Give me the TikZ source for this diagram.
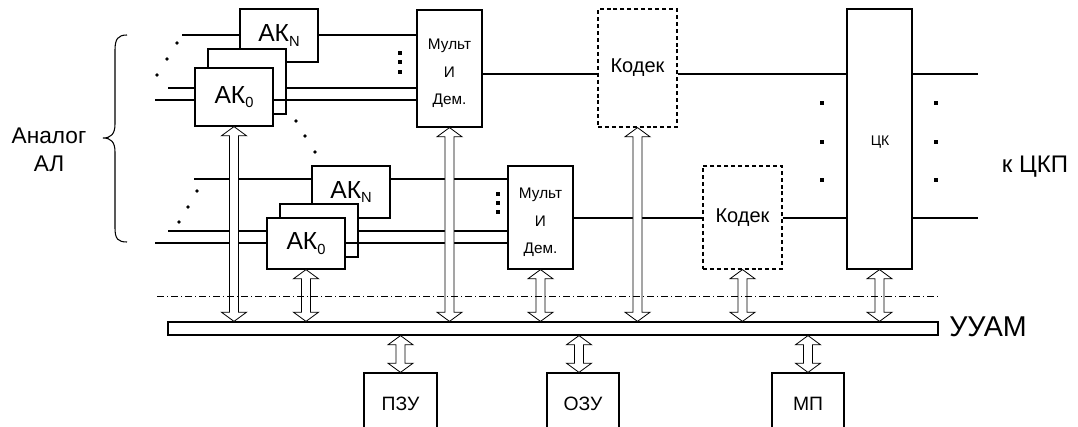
\documentclass[tikz,border=0pt]{standalone}
\usepackage{fontspec}
\setmainfont{Liberation Sans}
\usetikzlibrary{calc}
\newcommand\sbs[1]{\raisebox{-3.5pt}{\fontsize{11}{11}\selectfont #1}}
\newcommand\rbox[7][]{\node[rbx,#1,minimum width={(#5-#3)*0.75pt},minimum height={(#6-#4)*0.75pt}] (#2) at ({(#3+#5)/2},{(#4+#6)/2}) {#7};}
\newcommand\fat[2]{\path[fatarrow] let \p1=(#1), \p2=(#2) in
  (\x1,\y1) -- (\x1+9.4pt,\y1-6.9pt) -- (\x1+3.4pt,\y1-6.9pt) -- (\x1+3.4pt,\y2+6.9pt)
  -- (\x1+9.4pt,\y2+6.9pt) -- (\x1,\y2) -- (\x1-9.4pt,\y2+6.9pt) -- (\x1-3.4pt,\y2+6.9pt)
  -- (\x1-3.4pt,\y1-6.9pt) -- (\x1-9.4pt,\y1-6.9pt) -- cycle;}
\tikzset{
  rbx/.style={draw, line width=0.9pt, fill=white, inner sep=0pt, rectangle},
  dsh/.style={dash pattern=on 3pt off 2.2pt},
  fatarrow/.style={draw, fill=white, line width=0.6pt, line join=miter},
  conn/.style={line width=0.9pt},
  dashdot/.style={line width=0.7pt, dash pattern=on 5.5pt off 2pt on 1pt off 2pt},
  dotc/.style={circle, fill, inner sep=0pt, minimum size=2.8pt},
  sqd/.style={rectangle, fill, inner sep=0pt, minimum size=3pt},
  fAK/.style={font=\fontsize{18.5}{22}\selectfont},
  fKod/.style={font=\fontsize{15}{18}\selectfont},
  fMux/.style={font=\fontsize{11.5}{20.6}\selectfont, align=center, inner sep=0pt},
  fCK/.style={font=\fontsize{10.5}{12}\selectfont, inner sep=0pt},
  fCKP/.style={font=\fontsize{18}{22}\selectfont},
  fBig/.style={font=\fontsize{21.5}{24}\selectfont},
  fMem/.style={font=\fontsize{14.5}{18}\selectfont},
  fAn/.style={font=\fontsize{17}{21}\selectfont, align=center},
}
\begin{document}
\begin{tikzpicture}[x=0.75pt,y=-0.75pt]
\useasboundingbox (0,0) rectangle (1078,427);
\clip (0,0) rectangle (1078,427);
% upper group
\rbox[fAK]{akNa}{240}{9}{318}{62}{АК\sbs{N}}
\rbox{sha}{208}{49}{286}{114}{}
\rbox[fAK]{ak0a}{195}{68}{273}{126}{АК\sbs{0}}
\rbox{mux1}{417}{10}{482}{127}{}
\node[fMux] (mux1t) at ([yshift=-3.6pt]mux1.center) {Мульт\\И\\Дем.};
\rbox[dsh]{kod1}{598}{9}{677}{127}{}
\node[fKod] (kod1t) at (kod1.center) {Кодек};
\rbox{ck}{847}{9}{912}{269}{}
\node[fCK] (ckt) at (880,142) {ЦК};
% lower group
\rbox[fAK]{akNb}{312}{166}{390}{218}{АК\sbs{N}}
\rbox{shb}{280}{204}{358}{257}{}
\rbox[fAK]{ak0b}{267}{218}{345}{269}{АК\sbs{0}}
\rbox{mux2}{508}{166}{573}{269}{}
\node[fMux] (mux2t) at ([yshift=-3.6pt]mux2.center) {Мульт\\И\\Дем.};
\rbox[dsh]{kod2}{703}{166}{782}{269}{}
\node[fKod] (kod2t) at (kod2.center) {Кодек};
% bus and memory
\rbox{bus}{168}{322}{938}{335}{}
\rbox{pzu}{364}{373}{437}{435}{}
\node[fMem] (pzut) at (pzu.center) {ПЗУ};
\rbox{ozu}{547}{373}{619}{435}{}
\node[fMem] (ozut) at (ozu.center) {ОЗУ};
\rbox{mp}{772}{373}{844}{435}{}
\node[fMem] (mpt) at (mp.center) {МП};
% free ends
\coordinate (t0) at (182,35);
\coordinate (l1) at (168,88);
\coordinate (l2) at (155,100);
\coordinate (l3) at (194,179);
\coordinate (l4) at (168,231);
\coordinate (l5) at (155,243);
\coordinate (r1) at (978,74);
\coordinate (r2) at (978,218);
% connectors upper
\draw[conn] (t0) -- (t0 -| akNa.west);
\draw[conn] (t0 -| akNa.east) -- (t0 -| mux1.west);
\draw[conn] (l1) -- (l1 -| ak0a.west);
\draw[conn] (l1 -| sha.east) -- (l1 -| mux1.west);
\draw[conn] (l2) -- (l2 -| ak0a.west);
\draw[conn] (l2 -| ak0a.east) -- (l2 -| mux1.west);
\draw[conn] (r1 -| mux1.east) -- (r1 -| kod1.west);
\draw[conn] (r1 -| kod1.east) -- (r1 -| ck.west);
\draw[conn] (r1 -| ck.east) -- (r1);
% connectors lower
\draw[conn] (l3) -- (l3 -| akNb.west);
\draw[conn] (l3 -| akNb.east) -- (l3 -| mux2.west);
\draw[conn] (l4) -- (l4 -| ak0b.west);
\draw[conn] (l4 -| shb.east) -- (l4 -| mux2.west);
\draw[conn] (l5) -- (l5 -| ak0b.west);
\draw[conn] (l5 -| ak0b.east) -- (l5 -| mux2.west);
\draw[conn] (r2 -| mux2.east) -- (r2 -| kod2.west);
\draw[conn] (r2 -| kod2.east) -- (r2 -| ck.west);
\draw[conn] (r2 -| ck.east) -- (r2);
% fat arrows
\fat{ak0a.south}{bus.north}
\fat{ak0b.south}{bus.north}
\fat{mux1.south}{bus.north}
\fat{mux2.south}{bus.north}
\fat{kod1.south}{bus.north}
\fat{kod2.south}{bus.north}
\fat{ck.south}{bus.north}
\coordinate (ozuin) at ([xshift=-3pt]ozu.north);
\fat{pzu.north |- bus.south}{pzu.north}
\fat{ozuin |- bus.south}{ozuin}
\fat{mp.north |- bus.south}{mp.north}
% dash-dot boundary
\coordinate (dd1) at (157,296);
\coordinate (dd2) at (938,296);
\draw[dashdot] (dd1) -- (dd2);
% dots
\node[dotc] (c1) at (177,43) {};
\node[dotc] (c2) at (167,59) {};
\node[dotc] (c3) at (157,75) {};
\node[dotc] (c4) at (296,121) {};
\node[dotc] (c5) at (305,136) {};
\node[dotc] (c6) at (315,152) {};
\node[dotc] (c7) at (197,191) {};
\node[dotc] (c8) at (188,207) {};
\node[dotc] (c9) at (179,222) {};
\node[sqd] (s1) at (400,53) {};
\node[sqd] (s2) at (400,62) {};
\node[sqd] (s3) at (400,72) {};
\node[sqd] (s4) at (498,194) {};
\node[sqd] (s5) at (498,203) {};
\node[sqd] (s6) at (498,212) {};
\node[sqd] (s7) at (822,103) {};
\node[sqd] (s8) at (822,142) {};
\node[sqd] (s9) at (822,180) {};
\node[sqd] (s10) at (936,103) {};
\node[sqd] (s11) at (936,142) {};
\node[sqd] (s12) at (936,180) {};
% brace and labels
\draw[line width=0.8pt] (127,35) .. controls (118,35) and (115,39) .. (115,50) -- (115,124)
  .. controls (115,134) and (111,138) .. (103,138) .. controls (111,138) and (115,142) .. (115,152)
  -- (115,228) .. controls (115,239) and (118,242) .. (127,242);
\node[fAn] (anl) at (49,150) {Аналог\\АЛ};
\node[fCKP] (ckp) at (1035,167) {к ЦКП};
\node[fBig] (uuam) at (988,327) {УУАМ};
\end{tikzpicture}
\end{document}
